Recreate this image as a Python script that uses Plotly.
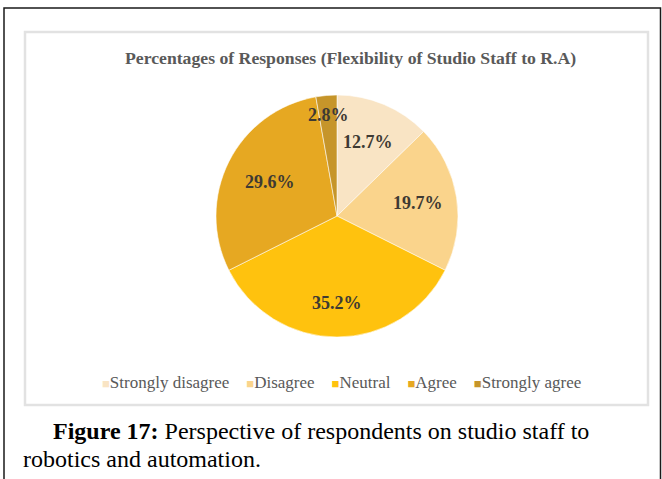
import math
import plotly.graph_objects as go

# ---- data ----
categories = ["Strongly disagree", "Disagree", "Neutral", "Agree", "Strongly agree"]
percentages = [12.7, 19.7, 35.2, 29.6, 2.8]
title_text = "Percentages of Responses (Flexibility of Studio Staff to R.A)"
caption_bold = "Figure 17:"
caption_line1 = " Perspective of respondents on studio staff to"
caption_line2 = "robotics and automation."

# ---- styles ----
colors = ["#F9E4C4", "#FAD48C", "#FFC20E", "#E6A822", "#C6952A"]
label_radius = [0.66, 0.68, 0.72, 0.62, 0.84]   # fraction of pie radius for labels

W, H = 662, 479
CX, CY, R = 337, 216, 121    # pie centre / radius in px
SERIF = "Liberation Serif, Times New Roman, serif"

def px(x):
    return x / W

def py(y):
    return 1 - y / H

fig = go.Figure()
fig.add_trace(go.Pie(
    labels=categories,
    values=percentages,
    sort=False,
    direction="clockwise",
    rotation=0,
    marker=dict(colors=colors, line=dict(color="rgba(255,255,255,0.55)", width=1)),
    textinfo="none",
    hoverinfo="label+percent",
    showlegend=False,
    domain=dict(x=[px(CX - R), px(CX + R)], y=[py(CY + R), py(CY - R)]),
))

annotations = []
total = sum(percentages)
cum = 0.0
for v, k in zip(percentages, label_radius):
    mid = (cum + v / 2) / total * 2 * math.pi
    cum += v
    lx = CX + R * k * math.sin(mid)
    ly = CY - R * k * math.cos(mid)
    annotations.append(dict(
        x=px(lx), y=py(ly), xref="paper", yref="paper",
        text=f"<b>{v:.1f}%</b>", showarrow=False,
        font=dict(family=SERIF, size=18, color="#3E3A33"),
        xanchor="center", yanchor="middle",
    ))

# title
annotations.append(dict(
    x=px(350), y=py(58), xref="paper", yref="paper",
    text=f"<b>{title_text}</b>", showarrow=False,
    font=dict(family=SERIF, size=17.7, color="#595959"),
    xanchor="center", yanchor="middle",
))

# legend (built as text)
items = []
for c, name in zip(colors, categories):
    items.append(f"<span style='color:{c};font-size:13px'>■</span>{name}")
legend_text = ("\u00a0" * 4).join(items)
annotations.append(dict(
    x=px(341), y=py(382), xref="paper", yref="paper",
    text=legend_text, showarrow=False,
    font=dict(family=SERIF, size=17, color="#595959"),
    xanchor="center", yanchor="middle",
))

# caption
annotations.append(dict(
    x=px(51), y=py(431), xref="paper", yref="paper",
    text=f"<b>{caption_bold}</b>{caption_line1}", showarrow=False,
    font=dict(family=SERIF, size=24, color="#000000"),
    xanchor="left", yanchor="middle",
))
annotations.append(dict(
    x=px(21), y=py(459), xref="paper", yref="paper",
    text=caption_line2, showarrow=False,
    font=dict(family=SERIF, size=24, color="#000000"),
    xanchor="left", yanchor="middle",
))

shapes = [
    # outer frame
    dict(type="rect", xref="paper", yref="paper",
         x0=px(4), x1=px(660.5), y0=py(500), y1=py(8),
         line=dict(color="#1a1a1a", width=1.5)),
    # inner chart box
    dict(type="rect", xref="paper", yref="paper",
         x0=px(25), x1=px(648), y0=py(405), y1=py(32),
         line=dict(color="#E2E2E2", width=2.5)),
]

fig.update_layout(
    width=W, height=H,
    margin=dict(l=0, r=0, t=0, b=0),
    paper_bgcolor="white", plot_bgcolor="white",
    annotations=annotations,
    shapes=shapes,
    showlegend=False,
)

fig.write_html(
    "out.html",
    config={"displayModeBar": False},
    post_script="document.body.style.margin='0px';document.body.style.overflow='hidden';",
)
